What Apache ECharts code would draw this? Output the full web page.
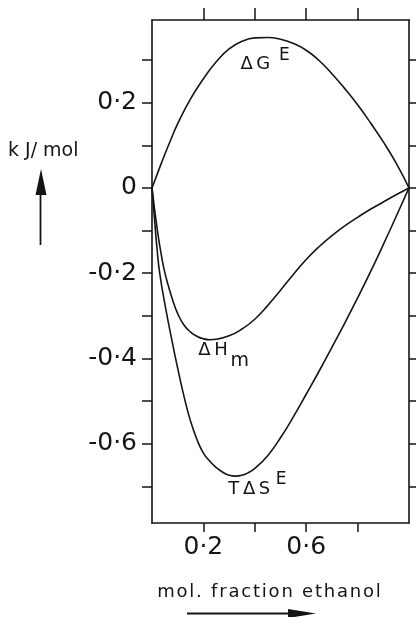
<!DOCTYPE html>
<html>
<head>
<meta charset="utf-8">
<script src="https://cdn.jsdelivr.net/npm/echarts@6/dist/echarts.min.js"></script>
<style>
  html, body { margin: 0; padding: 0; background: #fff; }
  #chart { width: 416px; height: 617px; }
</style>
</head>
<body>
<div id="chart"></div>
<script>
// Excess Gibbs energy, enthalpy and entropy term of mixing for ethanol + water (kJ/mol)
const gX  = [0, 0.025, 0.05, 0.075, 0.1, 0.15, 0.2, 0.25, 0.3, 0.35, 0.4, 0.45, 0.5, 0.55, 0.6, 0.65, 0.7, 0.75, 0.8, 0.85, 0.9, 0.95, 1];
const gE  = [0, 0.04, 0.079, 0.116, 0.151, 0.209, 0.256, 0.296, 0.326, 0.344, 0.352, 0.353, 0.349, 0.339, 0.323, 0.299, 0.268, 0.233, 0.195, 0.153, 0.108, 0.058, 0];

const hX  = [0, 0.01, 0.02, 0.03, 0.045, 0.06, 0.08, 0.1, 0.125, 0.15, 0.175, 0.2, 0.225, 0.25, 0.3, 0.35, 0.4, 0.45, 0.5, 0.55, 0.6, 0.65, 0.7, 0.75, 0.8, 0.85, 0.9, 0.95, 1];
const hM  = [0, -0.05, -0.095, -0.135, -0.185, -0.222, -0.262, -0.295, -0.322, -0.338, -0.348, -0.354, -0.356, -0.355, -0.347, -0.331, -0.308, -0.276, -0.24, -0.203, -0.168, -0.138, -0.112, -0.089, -0.069, -0.05, -0.033, -0.016, 0];

const sX  = [0, 0.01, 0.02, 0.03, 0.05, 0.075, 0.1, 0.125, 0.15, 0.175, 0.2, 0.225, 0.25, 0.275, 0.3, 0.325, 0.35, 0.375, 0.4, 0.45, 0.5, 0.55, 0.6, 0.65, 0.7, 0.75, 0.8, 0.85, 0.9, 0.95, 1];
const tsE = [0, -0.075, -0.145, -0.2, -0.272, -0.35, -0.423, -0.49, -0.547, -0.59, -0.622, -0.641, -0.656, -0.667, -0.674, -0.676, -0.674, -0.668, -0.658, -0.628, -0.586, -0.537, -0.484, -0.43, -0.374, -0.317, -0.258, -0.197, -0.133, -0.067, 0];

const yTickValues  = [-0.7, -0.6, -0.5, -0.4, -0.3, -0.2, -0.1, 0, 0.1, 0.2, 0.3];
const yLabelValues = [-0.6, -0.4, -0.2, 0, 0.2];
const xTickValues  = [0.2, 0.4, 0.6, 0.8];
const xLabelValues = [0.2, 0.6];

const INK = '#151515';
const FONT = '"DejaVu Sans", sans-serif';
const THIN = '\u2009';
const HAIR = '\u200a';

const zip = (xs, ys) => xs.map((x, i) => [x, ys[i]]);
// open up the lettering a little (canvas text has no letter-spacing here)
const spaced = s => Array.from(s).join(HAIR);

function fmt(v) {
  if (Math.abs(v) < 1e-9) return '0';
  const s = Math.abs(v).toFixed(1).replace('.', '\u00b7');
  return (v < 0 ? '-' : '') + s;
}

const chart = echarts.init(document.getElementById('chart'), null, { renderer: 'canvas' });

const frameLine = { show: true, onZero: false, lineStyle: { color: INK, width: 1.6 } };
const tick = (len, values) => ({
  show: true, inside: false, length: len, customValues: values,
  lineStyle: { color: INK, width: 1.5 }
});

const curve = (name, data) => ({
  name, type: 'line', data, showSymbol: false, symbol: 'none',
  smooth: 0.5,
  lineStyle: { color: INK, width: 1.6 },
  xAxisIndex: 0, yAxisIndex: 0, silent: true, animation: false
});

chart.setOption({
  animation: false,
  backgroundColor: '#fff',
  grid: { left: 152, right: 7, top: 20, bottom: 94, containLabel: false },
  xAxis: [
    {
      type: 'value', position: 'bottom', min: 0, max: 1,
      axisLine: frameLine,
      axisTick: tick(9, xTickValues),
      axisLabel: {
        show: true, customValues: xLabelValues, margin: 12,
        color: INK, fontFamily: FONT, fontSize: 25, formatter: fmt
      },
      splitLine: { show: false }
    },
    {
      type: 'value', position: 'top', min: 0, max: 1,
      axisLine: frameLine,
      axisTick: tick(12, xTickValues),
      axisLabel: { show: false },
      splitLine: { show: false }
    }
  ],
  yAxis: [
    {
      type: 'value', position: 'left', min: -0.786, max: 0.394,
      axisLine: frameLine,
      axisTick: tick(10, yTickValues),
      axisLabel: {
        show: true, customValues: yLabelValues, margin: 15,
        color: INK, fontFamily: FONT, fontSize: 25, formatter: fmt
      },
      splitLine: { show: false }
    },
    {
      type: 'value', position: 'right', min: -0.786, max: 0.394,
      axisLine: frameLine,
      axisTick: tick(8, yTickValues),
      axisLabel: { show: false },
      splitLine: { show: false }
    }
  ],
  series: [
    curve('\u0394G\u1d31', zip(gX, gE)),
    curve('\u0394Hm', zip(hX, hM)),
    curve('T\u0394S\u1d31', zip(sX, tsE))
  ]
});

// Curve names, anchored in data space; superscripts / subscripts as separate pieces
const curveLabels = [
  { text: '\u0394' + THIN + 'G', at: [0.344, 0.291], size: 18 },
  { text: 'E',                   at: [0.494, 0.311], size: 17 },
  { text: '\u0394' + THIN + 'H', at: [0.180, -0.382], size: 18 },
  { text: 'm',                   at: [0.305, -0.406], size: 19 },
  { text: 'T' + THIN + '\u0394' + THIN + 'S', at: [0.297, -0.706], size: 18 },
  { text: 'E',                   at: [0.482, -0.683], size: 17 }
];

const graphics = curveLabels.map(l => {
  const p = chart.convertToPixel({ xAxisIndex: 0, yAxisIndex: 0 }, l.at);
  return {
    type: 'text', x: p[0], y: p[1], silent: true,
    style: {
      text: l.text, fill: INK,
      font: l.size + 'px ' + FONT,
      align: 'left', verticalAlign: 'middle'
    }
  };
});

// Axis titles with their arrows
graphics.push(
  {
    type: 'text', x: 8, y: 151, silent: true,
    style: { text: 'k J/ mol', fill: INK, font: '19px ' + FONT, align: 'left', verticalAlign: 'middle' }
  },
  {
    type: 'line', silent: true,
    shape: { x1: 40.5, y1: 245, x2: 40.5, y2: 190 },
    style: { stroke: INK, lineWidth: 1.8 }
  },
  {
    type: 'polygon', silent: true,
    shape: { points: [[41, 169], [35.5, 195], [46.5, 195]] },
    style: { fill: INK }
  },
  {
    type: 'text', x: 269, y: 592, silent: true,
    style: { text: spaced('mol. fraction ethanol'), fill: INK, font: '18px ' + FONT, align: 'center', verticalAlign: 'middle' }
  },
  {
    type: 'line', silent: true,
    shape: { x1: 187, y1: 613.5, x2: 295, y2: 613.5 },
    style: { stroke: INK, lineWidth: 2 }
  },
  {
    type: 'polygon', silent: true,
    shape: { points: [[316, 613.5], [288, 609], [288, 618]] },
    style: { fill: INK }
  }
);

chart.setOption({ graphic: graphics });
</script>
</body>
</html>
